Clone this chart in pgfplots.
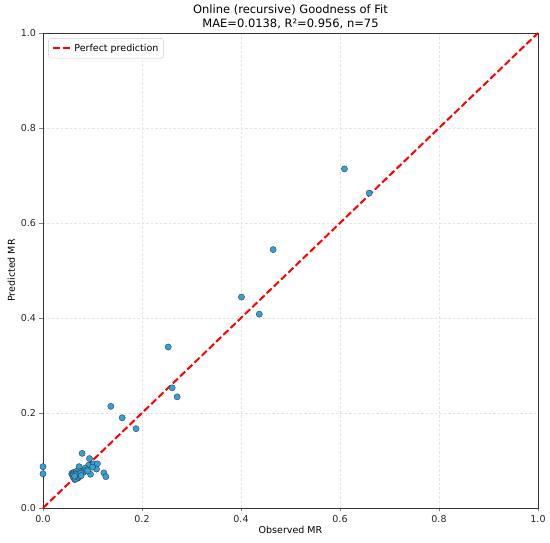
\documentclass[border=0pt]{standalone}
\usepackage{pgfplots}
\pgfplotsset{compat=1.18}
\usepackage{fontspec}
\setmainfont{DejaVu Sans}
\definecolor{dotfill}{RGB}{60,157,207}
\definecolor{dotedge}{RGB}{35,70,95}
\definecolor{gridc}{RGB}{228,228,228}
\begin{document}
\begin{tikzpicture}
\useasboundingbox (-43pt,-35pt) rectangle (507pt,508pt);
\begin{axis}[
  at={(0,0)}, anchor=south west,
  scale only axis, width=495pt, height=475pt,
  xmin=0, xmax=1, ymin=0, ymax=1,
  xtick={0,0.2,0.4,0.6,0.8,1.0},
  ytick={0,0.2,0.4,0.6,0.8,1.0},
  /pgf/number format/assume math mode=true,
  /pgf/number format/fixed, /pgf/number format/fixed zerofill,
  /pgf/number format/precision=1,
  tick label style={font=\fontsize{9.5}{11}\selectfont, text=black!85},
  label style={font=\fontsize{9.5}{11}\selectfont},
  xlabel={Observed MR}, ylabel={Predicted MR},
  xlabel style={yshift=3pt},
  ylabel style={yshift=-1pt},
  title style={font=\fontsize{11.5}{14}\selectfont, align=center, yshift=-5pt},
  title={Online (recursive) Goodness of Fit\\MAE=0.0138, R²=0.956, n=75},
  tick align=outside, major tick length=3.5pt,
  xtick pos=bottom, ytick pos=left,
  axis line style={black!80, line width=0.8pt},
  grid=major, major grid style={gridc, dash pattern=on 2.5pt off 2pt, line width=0.6pt},
  legend style={font=\fontsize{9.5}{11}\selectfont, draw=black!20, rounded corners=2pt, inner xsep=3pt, inner ysep=3.5pt, at={(0.011,0.989)}, anchor=north west},
  legend image post style={xscale=1.1},
  legend cell align=left,
  clip=false,
]
\addplot[only marks, mark=*, mark size=3.1pt, mark options={fill=dotfill, draw=dotedge, line width=0.4pt}, forget plot] table {
x y
0.609 0.714
0.659 0.663
0.465 0.544
0.401 0.444
0.437 0.408
0.253 0.339
0.261 0.253
0.271 0.234
0.137 0.214
0.160 0.190
0.188 0.167
0.000 0.087
0.000 0.072
0.079 0.115
0.094 0.104
0.073 0.087
0.092 0.090
0.102 0.093
0.110 0.093
0.108 0.082
0.085 0.084
0.082 0.075
0.096 0.071
0.123 0.074
0.127 0.066
0.078 0.077
0.088 0.080
0.100 0.086
0.090 0.078
0.058 0.072
0.060 0.074
0.061 0.070
0.062 0.066
0.062 0.073
0.063 0.068
0.063 0.063
0.064 0.071
0.064 0.065
0.065 0.069
0.065 0.062
0.066 0.074
0.066 0.067
0.067 0.064
0.067 0.071
0.068 0.069
0.068 0.066
0.069 0.073
0.069 0.063
0.070 0.068
0.070 0.071
0.071 0.066
0.071 0.075
0.072 0.070
0.072 0.064
0.073 0.072
0.073 0.067
0.074 0.069
0.074 0.076
0.075 0.071
0.060 0.068
0.061 0.065
0.063 0.075
0.064 0.060
0.066 0.061
0.067 0.077
0.068 0.072
0.069 0.067
0.070 0.065
0.071 0.069
0.065 0.072
0.062 0.070
0.076 0.073
0.077 0.068
0.066 0.070
0.064 0.067
};
\addplot[red, line width=2pt, dash pattern=on 7pt off 3pt] coordinates {(0,0) (1,1)};
\addlegendentry{Perfect prediction}
\end{axis}
\end{tikzpicture}
\end{document}
